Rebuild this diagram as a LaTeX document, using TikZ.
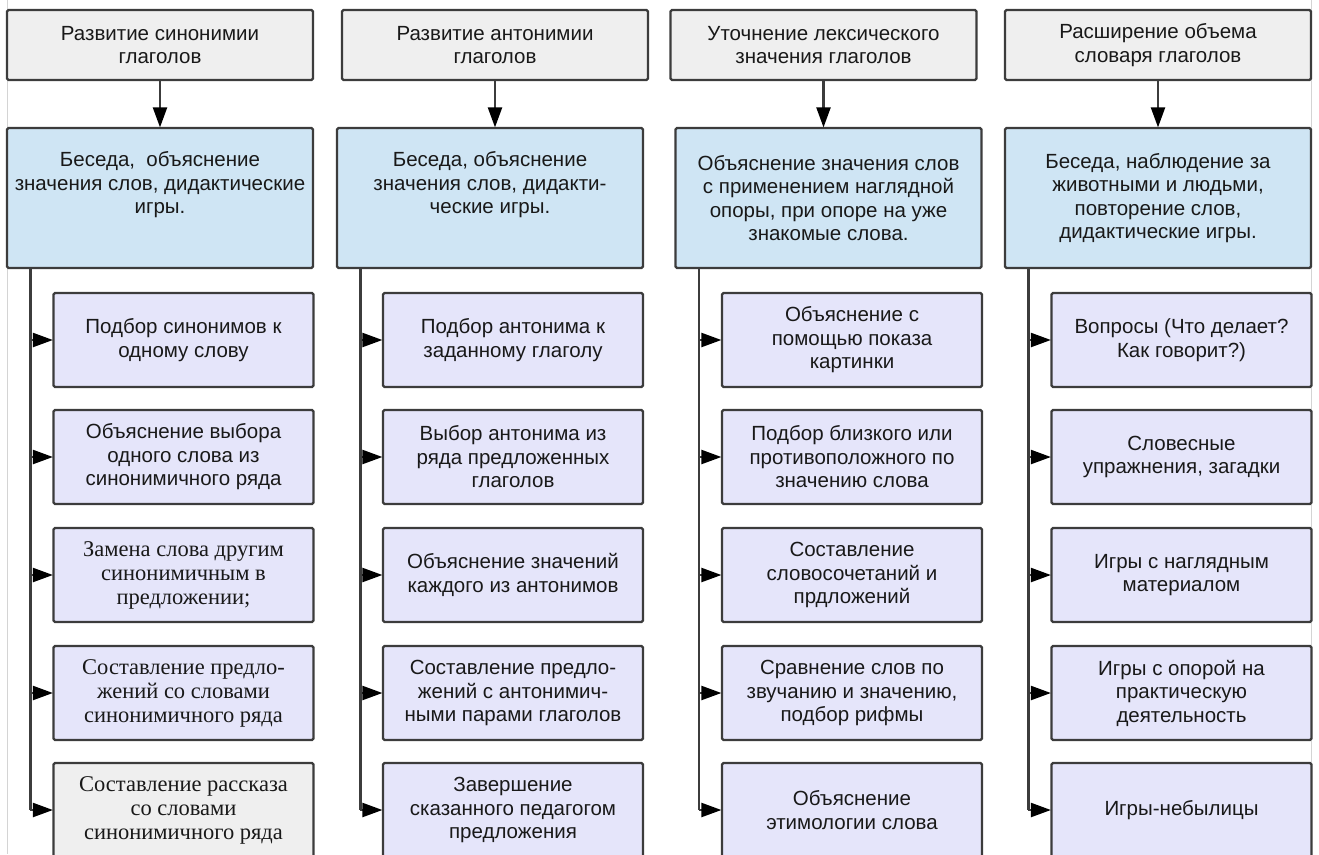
\documentclass[tikz,border=0pt]{standalone}
\usepackage{fontspec}
\setmainfont{Liberation Sans}
\newfontfamily\timesface{Liberation Serif}
\usetikzlibrary{arrows.meta}
\definecolor{topgray}{RGB}{239,239,239}
\definecolor{midblue}{RGB}{207,229,244}
\definecolor{subviolet}{RGB}{229,229,250}
\definecolor{edgegray}{RGB}{60,60,60}
\definecolor{pagegray}{RGB}{212,212,212}
\tikzset{
BOX/.style={draw=edgegray,line width=2.2pt,rounded corners=1.5pt,align=center,
	inner sep=0pt,text=black!90,font=\fontsize{20.5pt}{23.5pt}\selectfont},
TOPBOX/.style={BOX,fill=topgray,minimum width=306pt,minimum height=70pt},
MIDBOX/.style={BOX,fill=midblue,minimum width=306pt,minimum height=140pt},
SUBBOX/.style={BOX,fill=#1,minimum width=260pt,minimum height=94pt},
SUBBOX/.default=subviolet,
SERIF/.style={font=\timesface\fontsize{22.5pt}{24pt}\selectfont},
LINK/.style={draw=edgegray,line width=2.2pt},
ARROW/.style={LINK,-{Triangle[length=20pt,width=14pt,color=black]},shorten >=-0.5pt},
}
\begin{document}
\begin{tikzpicture}[x=1pt,y=-1pt]
	\useasboundingbox (0,0) rectangle (1319,854);
	%Page edges
	\draw[pagegray,line width=1.6pt] (7.5,0) -- (7.5,854);
	\draw[pagegray,line width=1.6pt] (1311.5,0) -- (1311.5,854);
	%Goals
	\node[TOPBOX] (top1) at (160,45) {Развитие синонимии\\глаголов};
	\node[TOPBOX] (top2) at (495,45) {Развитие антонимии\\глаголов};
	\node[TOPBOX] (top3) at (823.5,45) {Уточнение лексического\\значения глаголов};
	\node[TOPBOX] (top4) at (1158,45) {Расширение объема\\словаря глаголов};
	%Methods
	\node[MIDBOX] (mid1) at (160,198) {Беседа,\ \ объяснение\\значения слов, дидактические\\игры.\\ \strut};
	\node[MIDBOX] (mid2) at (490,198) {Беседа, объяснение\\значения слов, дидакти-\\ческие игры.\\ \strut};
	\node[MIDBOX] (mid3) at (828.5,198) {Объяснение значения слов\\с применением наглядной\\опоры, при опоре на уже\\знакомые слова.};
	\node[MIDBOX] (mid4) at (1158,198) {Беседа, наблюдение за\\животными и людьми,\\повторение слов,\\дидактические игры.};
	\foreach \i in {1,...,4}
		\draw[ARROW] (top\i.south) -- (top\i.south |- mid\i.north);
	%Column 1
	\node[SUBBOX] (s11) at (183.5,340) {Подбор синонимов к\\одному слову};
	\node[SUBBOX] (s12) at (183.5,457) {Объяснение выбора\\одного слова из\\синонимичного ряда};
	\node[SUBBOX,SERIF] (s13) at (183.5,575) {Замена слова другим\\синонимичным в\\предложении;};
	\node[SUBBOX,SERIF] (s14) at (183.5,693) {Составление предло-\\жений со словами\\синонимичного ряда};
	\node[SUBBOX=topgray,SERIF] (s15) at (183.5,810) {Составление рассказа\\со словами\\синонимичного ряда};
	%Column 2
	\node[SUBBOX] (s21) at (513,340) {Подбор антонима к\\заданному глаголу};
	\node[SUBBOX] (s22) at (513,457) {Выбор антонима из\\ряда предложенных\\глаголов};
	\node[SUBBOX] (s23) at (513,575) {Объяснение значений\\каждого из антонимов};
	\node[SUBBOX] (s24) at (513,693) {Составление предло-\\жений с антонимич-\\ными парами глаголов};
	\node[SUBBOX] (s25) at (513,810) {Завершение\\сказанного педагогом\\предложения};
	%Column 3
	\node[SUBBOX] (s31) at (852,340) {Объяснение с\\помощью показа\\картинки};
	\node[SUBBOX] (s32) at (852,457) {Подбор близкого или\\противоположного по\\значению слова};
	\node[SUBBOX] (s33) at (852,575) {Составление\\словосочетаний и\\прдложений};
	\node[SUBBOX] (s34) at (852,693) {Сравнение слов по\\звучанию и значению,\\подбор рифмы};
	\node[SUBBOX] (s35) at (852,810) {Объяснение\\этимологии слова};
	%Column 4
	\node[SUBBOX] (s41) at (1181.5,340) {Вопросы (Что делает?\\Как говорит?)};
	\node[SUBBOX] (s42) at (1181.5,457) {Словесные\\упражнения, загадки};
	\node[SUBBOX] (s43) at (1181.5,575) {Игры с наглядным\\материалом};
	\node[SUBBOX] (s44) at (1181.5,693) {Игры с опорой на\\практическую\\деятельность};
	\node[SUBBOX] (s45) at (1181.5,810) {Игры-небылицы};
	%Branches
	\foreach \i in {1,...,4}{
		\coordinate (bus\i) at ([xshift=24.5pt]mid\i.south west);
		\draw[LINK] (bus\i) -- (bus\i |- s\i5.west);
		\foreach \j in {1,...,5}
			\draw[ARROW] (bus\i |- s\i\j.west) -- (s\i\j.west);
	}
\end{tikzpicture}
\end{document}
